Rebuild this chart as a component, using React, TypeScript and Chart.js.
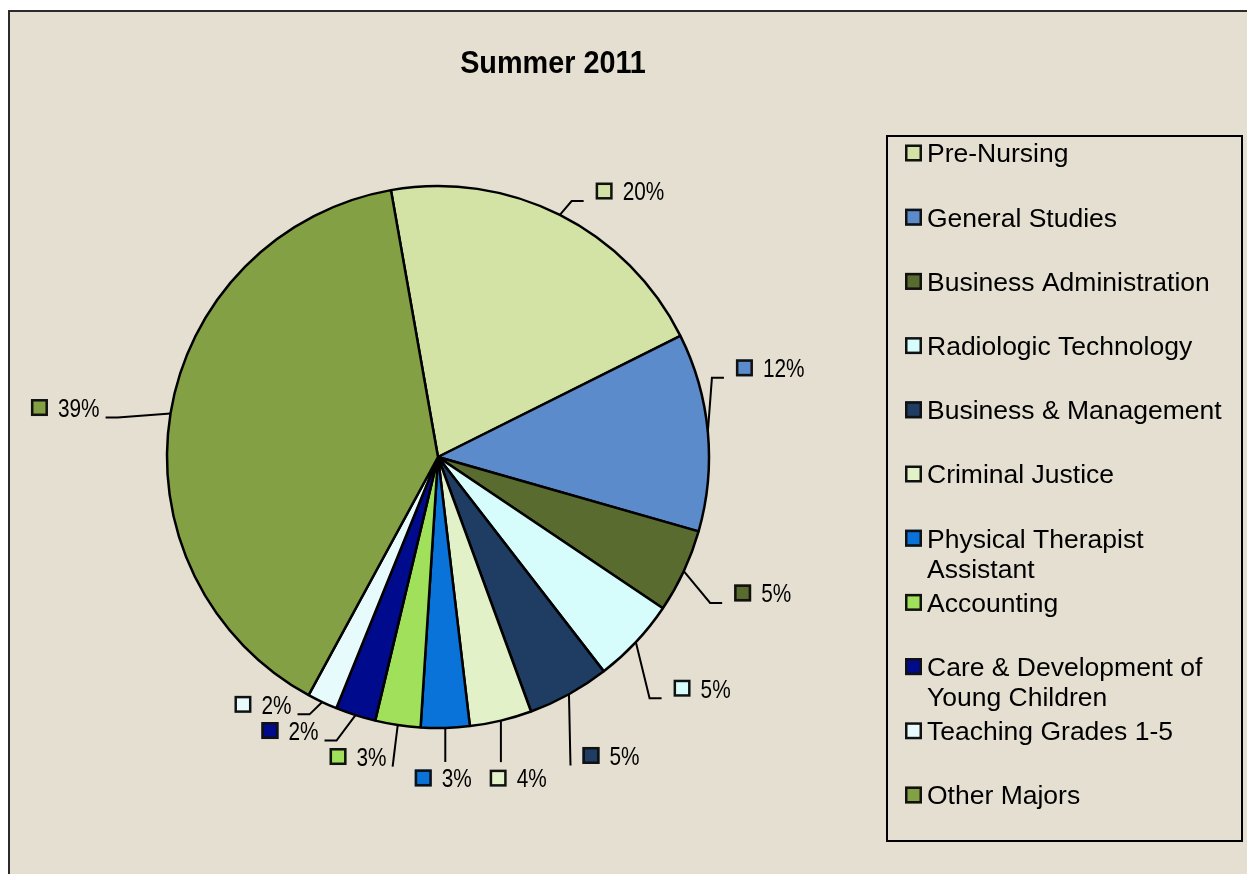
import React, { useEffect, useRef } from "react";
import { Chart, registerables } from "chart.js";

Chart.register(...registerables);

// ---------- data ----------
const TITLE = "Summer 2011";
const CATEGORIES = [
  "Pre-Nursing",
  "General Studies",
  "Business Administration",
  "Radiologic Technology",
  "Business & Management",
  "Criminal Justice",
  "Physical Therapist Assistant",
  "Accounting",
  "Care & Development of Young Children",
  "Teaching Grades 1-5",
  "Other Majors",
];
const SHARES = [20.4, 11.8, 5.0, 5.1, 4.9, 3.7, 2.9, 2.7, 2.4, 1.8, 39.3];
const COLORS = [
  "#D3E3A6",
  "#5B8BCB",
  "#5A6B2F",
  "#D6FCFC",
  "#1F3D63",
  "#E3F1C8",
  "#0A73DA",
  "#A0E05A",
  "#000A8C",
  "#E8FBFC",
  "#84A044",
];

// ---------- layout (not data) ----------
const W = 1247;
const H = 874;
const BG = "#E4DFD0";
const FONT = '"Liberation Sans", Arial, Helvetica, sans-serif';
const LABEL_NUDGE_DEG = [9.1, -9.7, -2.2, -1.9, -1.2, -0.6, 0.6, 6.4, 10.7, 10.0, -1.7];
const LABEL_GAP = [57, 73, 81, 80, 74, 60, 50, 39, 40, 32, 105];
const LABEL_SX = 0.8;
const TITLE_SX = 0.9;

function scaledText(
  ctx: CanvasRenderingContext2D,
  text: string,
  x: number,
  y: number,
  sx: number,
  align: CanvasTextAlign
) {
  ctx.save();
  ctx.translate(x, y);
  ctx.scale(sx, 1);
  ctx.textAlign = align;
  ctx.fillText(text, 0, 0);
  ctx.restore();
}

function wrapWords(ctx: CanvasRenderingContext2D, text: string, maxW: number) {
  const words = text.split(" ");
  const lines: string[] = [];
  let cur = "";
  for (const w of words) {
    const test = cur ? cur + " " + w : w;
    if (cur && ctx.measureText(test).width > maxW) {
      lines.push(cur);
      cur = w;
    } else cur = test;
  }
  if (cur) lines.push(cur);
  return lines;
}

const decorPlugin = {
  id: "decor",
  beforeDraw(chart: any) {
    const ctx: CanvasRenderingContext2D = chart.ctx;
    ctx.save();
    ctx.fillStyle = "#ffffff";
    ctx.fillRect(0, 0, W, H);
    ctx.fillStyle = BG;
    ctx.fillRect(9, 11, W, H);
    ctx.fillStyle = "#2b2b2b";
    ctx.fillRect(8, 10, 2, H);
    ctx.fillRect(8, 10, W, 2);
    ctx.restore();
  },
  afterDraw(chart: any) {
    const ctx: CanvasRenderingContext2D = chart.ctx;
    ctx.save();
    ctx.fillStyle = "#000";
    ctx.textBaseline = "alphabetic";

    // title
    ctx.font = `bold 32px ${FONT}`;
    scaledText(ctx, TITLE, 553, 62 + (0.716 * 32) / 2, TITLE_SX, "center");

    // data labels with leader lines
    const meta = chart.getDatasetMeta(0);
    const ds = chart.data.datasets[0];
    const vals: number[] = ds.data as number[];
    const total = vals.reduce((a, b) => a + b, 0);
    ctx.font = `26px ${FONT}`;
    meta.data.forEach((arc: any, i: number) => {
      const p = arc.getProps(["x", "y", "startAngle", "endAngle", "outerRadius"], true);
      const mid = (p.startAngle + p.endAngle) / 2;
      const ex = p.x + p.outerRadius * Math.cos(mid);
      const ey = p.y + p.outerRadius * Math.sin(mid);
      const la = mid + (LABEL_NUDGE_DEG[i] * Math.PI) / 180;
      const lr = p.outerRadius + LABEL_GAP[i];
      const cx = p.x + lr * Math.cos(la);
      const cy = p.y + lr * Math.sin(la);
      const txt = Math.round((vals[i] / total) * 100) + "%";
      const tw = ctx.measureText(txt).width * LABEL_SX;
      const sq = 17;
      const gap = 10;
      const w = sq + gap + tw;
      const left = cx - w / 2;
      const right = cx + w / 2;

      let ax: number, ay: number;
      let elbow: [number, number] | null = null;
      if (ex >= left && ex <= right) {
        ax = ex;
        ay = cy - 16;
      } else if (ex < left) {
        ax = left - 12;
        ay = cy + 10;
        if (ax - 12 > ex) elbow = [ax - 12, ay];
      } else {
        ax = right + 6;
        ay = cy + 10;
        if (ax + 12 < ex) elbow = [ax + 12, ay];
      }
      ctx.beginPath();
      ctx.strokeStyle = "#000";
      ctx.lineWidth = 2;
      ctx.moveTo(ex, ey);
      if (elbow) ctx.lineTo(elbow[0], elbow[1]);
      ctx.lineTo(ax, ay);
      ctx.stroke();

      // square
      ctx.fillStyle = (ds.backgroundColor as string[])[i];
      ctx.fillRect(left, cy - 8.5, sq, sq);
      ctx.strokeStyle = "#111";
      ctx.lineWidth = 2.5;
      ctx.strokeRect(left + 1.25, cy - 7.25, sq - 2.5, sq - 2.5);
      ctx.fillStyle = "#000";
      scaledText(ctx, txt, left + sq + gap, cy + (0.716 * 26) / 2, LABEL_SX, "left");
    });

    // legend
    ctx.strokeStyle = "#000";
    ctx.lineWidth = 2;
    ctx.strokeRect(887, 136, 355, 705);
    ctx.font = `26.5px ${FONT}`;
    const labels: string[] = chart.data.labels;
    labels.forEach((lab, i) => {
      const yc = 153 + 64.2 * i;
      ctx.fillStyle = (ds.backgroundColor as string[])[i];
      ctx.fillRect(905, yc - 8.5, 17, 17);
      ctx.strokeStyle = "#111";
      ctx.lineWidth = 2.5;
      ctx.strokeRect(906.25, yc - 7.25, 14.5, 14.5);
      ctx.fillStyle = "#000";
      ctx.textAlign = "left";
      const lines = wrapWords(ctx, lab, 302);
      lines.forEach((ln, k) => {
        ctx.fillText(ln, 927, yc + (0.716 * 26.5) / 2 + k * 30);
      });
    });
    ctx.restore();
  },
};

export default function App() {
  const ref = useRef<HTMLCanvasElement | null>(null);
  useEffect(() => {
    if (!ref.current) return;
    const chart = new Chart(ref.current, {
      type: "pie",
      data: {
        labels: CATEGORIES,
        datasets: [
          {
            data: SHARES,
            backgroundColor: COLORS,
            borderColor: "#000",
            borderWidth: 2.5,
          },
        ],
      },
      options: {
        responsive: false,
        animation: false,
        rotation: -10,
        radius: 271,
        layout: { padding: { left: 167, top: 186, right: W - 709, bottom: H - 728 } },
        plugins: {
          legend: { display: false },
          title: { display: false },
          tooltip: { enabled: false },
        },
      },
      plugins: [decorPlugin],
    });
    return () => chart.destroy();
  }, []);
  return (
    <div style={{ position: "fixed", left: 0, top: 0, width: W, height: H, overflow: "hidden" }}>
      <canvas ref={ref} width={W} height={H} style={{ display: "block" }} />
    </div>
  );
}
